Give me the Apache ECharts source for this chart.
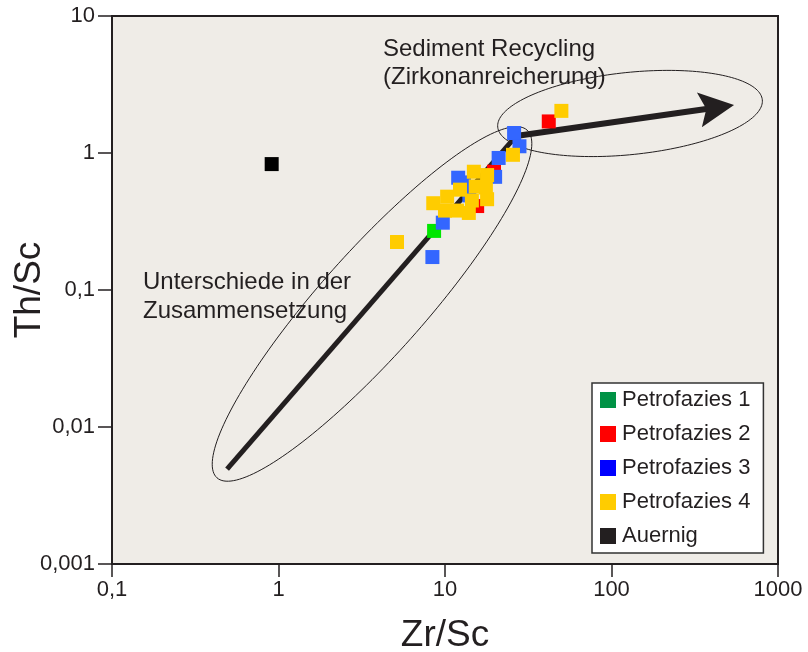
<!DOCTYPE html>
<html>
<head>
<meta charset="utf-8">
<script src="https://cdn.jsdelivr.net/npm/echarts@6/dist/echarts.min.js"></script>
<style>
  html, body { margin: 0; padding: 0; background: #ffffff; }
  #chart { width: 808px; height: 652px; }
</style>
</head>
<body>
<div id="chart"></div>
<script>
// Th/Sc against Zr/Sc, both on log scales
const xTickLabels = ['0,1', '1', '10', '100', '1000'];      // 10^-1 .. 10^3
const yTickLabels = ['0,001', '0,01', '0,1', '1', '10'];    // 10^-3 .. 10^1

const petrofazies1 = [[8.6, 0.27]];
const petrofazies2 = [[42, 1.7], [15.6, 0.41], [19.7, 0.73]];
const petrofazies3 = [
  [26, 1.40], [28, 1.12], [21, 0.92], [12, 0.66], [20, 0.67],
  [9.7, 0.31], [8.4, 0.174], [14, 0.49], [13, 0.61]
];
const petrofazies4 = [
  [50, 2.03], [25.6, 0.97], [14.9, 0.73], [17.9, 0.69], [17.6, 0.56],
  [12.3, 0.54], [10.3, 0.48], [8.5, 0.43], [17.9, 0.46], [11.8, 0.38],
  [13.9, 0.365], [5.15, 0.224], [15.3, 0.57], [14.5, 0.45], [10, 0.38]
];
const auernig = [[0.91, 0.83]];

// Trend arrows (Zr/Sc, Th/Sc)
const compositionTrend = [[0.491, 0.00493], [26.7, 1.33]];
const recyclingTrend = [[26.7, 1.33], [428.5, 2.15]];

// Fields: centre, end of major axis, end of minor axis
const compositionField = [3.645, 0.0791, 31.1, 1.47, 6.23, 0.0442];
const recyclingField = [129.2, 1.943, 805, 2.445, 136.3, 0.977];

const INK = '#231f20';
const FONT = "'Liberation Sans', Arial, sans-serif";

const chart = echarts.init(document.getElementById('chart'), null, { renderer: 'canvas' });

function decade(v) { return Math.round(Math.log10(v)); }

function renderField(params, api) {
  const c = api.coord([api.value(0), api.value(1)]);
  const m = api.coord([api.value(2), api.value(3)]);
  const n = api.coord([api.value(4), api.value(5)]);
  const a = Math.hypot(m[0] - c[0], m[1] - c[1]);
  const b = Math.hypot(n[0] - c[0], n[1] - c[1]);
  const ang = Math.atan2(m[1] - c[1], m[0] - c[0]);
  const pts = [];
  for (let i = 0; i < 180; i++) {
    const t = i / 180 * Math.PI * 2;
    const ex = a * Math.cos(t), ey = b * Math.sin(t);
    pts.push([c[0] + ex * Math.cos(ang) - ey * Math.sin(ang),
              c[1] + ex * Math.sin(ang) + ey * Math.cos(ang)]);
  }
  return {
    type: 'polygon',
    shape: { points: pts },
    style: { fill: 'none', stroke: INK, lineWidth: 1 }
  };
}

function scatter(name, data, color) {
  return {
    name: name,
    type: 'scatter',
    data: data,
    symbol: 'rect',
    symbolSize: 14,
    itemStyle: { color: color, opacity: 1 },
    z: 5
  };
}

const option = {
  backgroundColor: '#ffffff',
  animation: false,
  grid: {
    left: 112, right: 30, top: 16, bottom: 88,
    containLabel: false,
    outerBoundsMode: 'none',
    show: true,
    backgroundColor: '#efece7',
    borderColor: INK,
    borderWidth: 2
  },
  xAxis: {
    type: 'log', logBase: 10, min: 0.1, max: 1000,
    name: 'Zr/Sc', nameLocation: 'middle', nameGap: 53, nameMoveOverlap: false,
    nameTextStyle: { fontFamily: FONT, fontSize: 37, color: INK },
    axisLine: { show: true, lineStyle: { color: INK, width: 2 } },
    axisTick: { show: true, inside: false, length: 13, lineStyle: { color: INK, width: 1.5 } },
    minorTick: { show: false },
    splitLine: { show: false },
    axisLabel: {
      margin: 15, fontFamily: FONT, fontSize: 22, color: INK,
      formatter: v => xTickLabels[decade(v) + 1]
    }
  },
  yAxis: {
    type: 'log', logBase: 10, min: 0.001, max: 10,
    name: 'Th/Sc', nameLocation: 'middle', nameGap: 64, nameMoveOverlap: false,
    nameTextStyle: { fontFamily: FONT, fontSize: 37, color: INK },
    axisLine: { show: true, lineStyle: { color: INK, width: 2 } },
    axisTick: { show: true, inside: false, length: 14, lineStyle: { color: INK, width: 1.5 } },
    minorTick: { show: false },
    splitLine: { show: false },
    axisLabel: {
      margin: 17, fontFamily: FONT, fontSize: 22, color: INK,
      formatter: v => yTickLabels[decade(v) + 3]
    }
  },
  legend: {
    orient: 'vertical',
    left: 592, top: 383,
    backgroundColor: '#ffffff',
    borderColor: '#333333',
    borderWidth: 1.5,
    borderRadius: 0,
    padding: [6, 13, 6, 8],
    itemGap: 12,
    itemWidth: 16, itemHeight: 16,
    icon: 'rect',
    textStyle: { fontFamily: FONT, fontSize: 22, color: INK, padding: [0, 0, 0, 1] },
    data: [
      { name: 'Petrofazies 1', itemStyle: { color: '#009245' } },
      { name: 'Petrofazies 2', itemStyle: { color: '#ff0000' } },
      { name: 'Petrofazies 3', itemStyle: { color: '#0000ff' } },
      { name: 'Petrofazies 4', itemStyle: { color: '#ffcc00' } },
      { name: 'Auernig', itemStyle: { color: '#231f20' } }
    ]
  },
  graphic: [
    {
      type: 'text', left: 383, top: 35, z: 10,
      style: { text: 'Sediment Recycling\n(Zirkonanreicherung)', font: '24px ' + FONT, fill: INK, lineHeight: 28 }
    },
    {
      type: 'text', left: 143, top: 268, z: 10,
      style: { text: 'Unterschiede in der\nZusammensetzung', font: '24px ' + FONT, fill: INK, lineHeight: 29 }
    }
  ],
  series: [
    {
      type: 'custom',
      renderItem: renderField,
      data: [compositionField, recyclingField],
      silent: true,
      z: 2
    },
    {
      type: 'lines',
      coordinateSystem: 'cartesian2d',
      polyline: true,
      data: [{ coords: compositionTrend }],
      lineStyle: { color: INK, width: 5, opacity: 1, cap: 'butt' },
      symbol: 'none',
      silent: true,
      z: 3
    },
    {
      type: 'lines',
      coordinateSystem: 'cartesian2d',
      data: [{ coords: recyclingTrend }],
      lineStyle: { color: INK, width: 6, opacity: 1 },
      symbol: ['none', 'path://M5,0 L10,10 L5,8 L0,10 Z'],
      symbolSize: [1, 35],
      itemStyle: { color: INK },
      silent: true,
      z: 3
    },
    scatter('Petrofazies 1', petrofazies1, '#00e600'),
    scatter('Petrofazies 2', petrofazies2, '#ff0000'),
    scatter('Petrofazies 3', petrofazies3, '#3366ff'),
    scatter('Petrofazies 4', petrofazies4, '#ffcc00'),
    scatter('Auernig', auernig, '#000000')
  ]
};

chart.setOption(option);
</script>
</body>
</html>
